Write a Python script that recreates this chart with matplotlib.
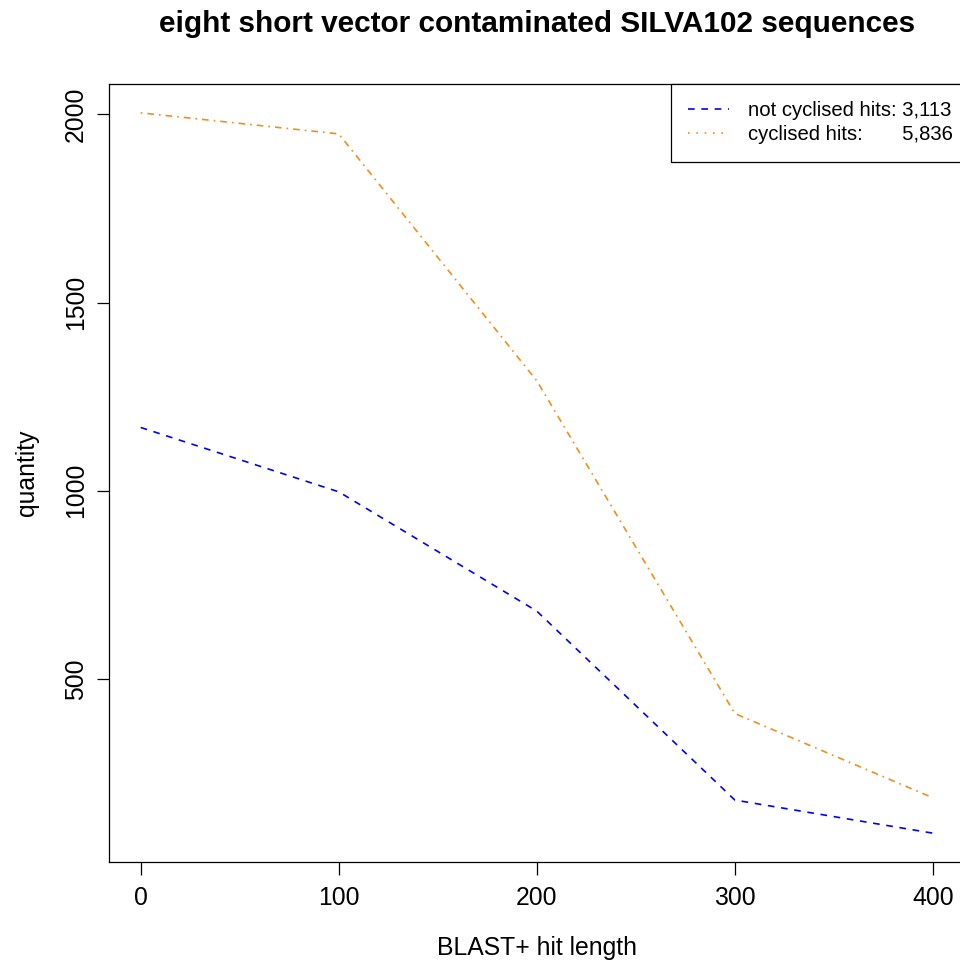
import matplotlib
matplotlib.use("Agg")
import matplotlib.pyplot as plt
from matplotlib.lines import Line2D

plt.rcParams['font.family'] = ['Liberation Sans', 'DejaVu Sans']

hit_length = [0, 100, 200, 300, 400]
not_cyclised = [1168, 997, 680, 178, 90]
cyclised = [2004, 1948, 1292, 408, 184]
x_ticks = [0, 100, 200, 300, 400]
y_ticks = [500, 1000, 1500, 2000]
title = "eight short vector contaminated SILVA102 sequences"
legend_labels = ["not cyclised hits: 3,113", "cyclised hits:       5,836"]

fig = plt.figure(figsize=(9.6, 9.66), dpi=100)
ax = fig.add_axes([109/960, 1-862/966, (964.6-109)/960, (862-84)/966])

ax.plot(hit_length, not_cyclised, color='blue', lw=1.2, linestyle=(0, (4, 4)))
ax.plot(hit_length, cyclised, color='#F0901A', lw=1.2, linestyle=(0, (1, 3, 4, 3)))

ax.set_xlim(-16, 416)
ax.set_ylim(13.4, 2080.6)
ax.set_xticks(x_ticks)
ax.set_yticks(y_ticks)
ax.set_yticklabels([str(v) for v in y_ticks], rotation=90, va='center')
ax.tick_params(direction='out', length=9, width=0.9, labelsize=17.8, pad=6)
ax.tick_params(axis='x', pad=8)
for s in ax.spines.values():
    s.set_linewidth(0.9)

ax.set_xlabel("BLAST+ hit length", fontsize=17.8, labelpad=19)
ax.set_ylabel("quantity", fontsize=17.8, labelpad=18)
fig.text(537/960, 1-24/966, title, ha='center', va='center', fontsize=21.4, fontweight='bold')

handles = [Line2D([], [], color='blue', lw=1.2, linestyle=(0, (4, 4))),
           Line2D([], [], color='#F0901A', lw=1.2, linestyle=(0, (1, 4)))]
leg = ax.legend(handles, legend_labels, loc='upper left',
                bbox_to_anchor=((671-109)/(964.6-109), 1.0), borderaxespad=0,
                fancybox=False, edgecolor='black', framealpha=1, fontsize=14.6,
                handlelength=2.0, handletextpad=0.95, borderpad=0.85, labelspacing=0.25)
leg.get_frame().set_linewidth(0.9)

fig.savefig("out.png", dpi=100)
